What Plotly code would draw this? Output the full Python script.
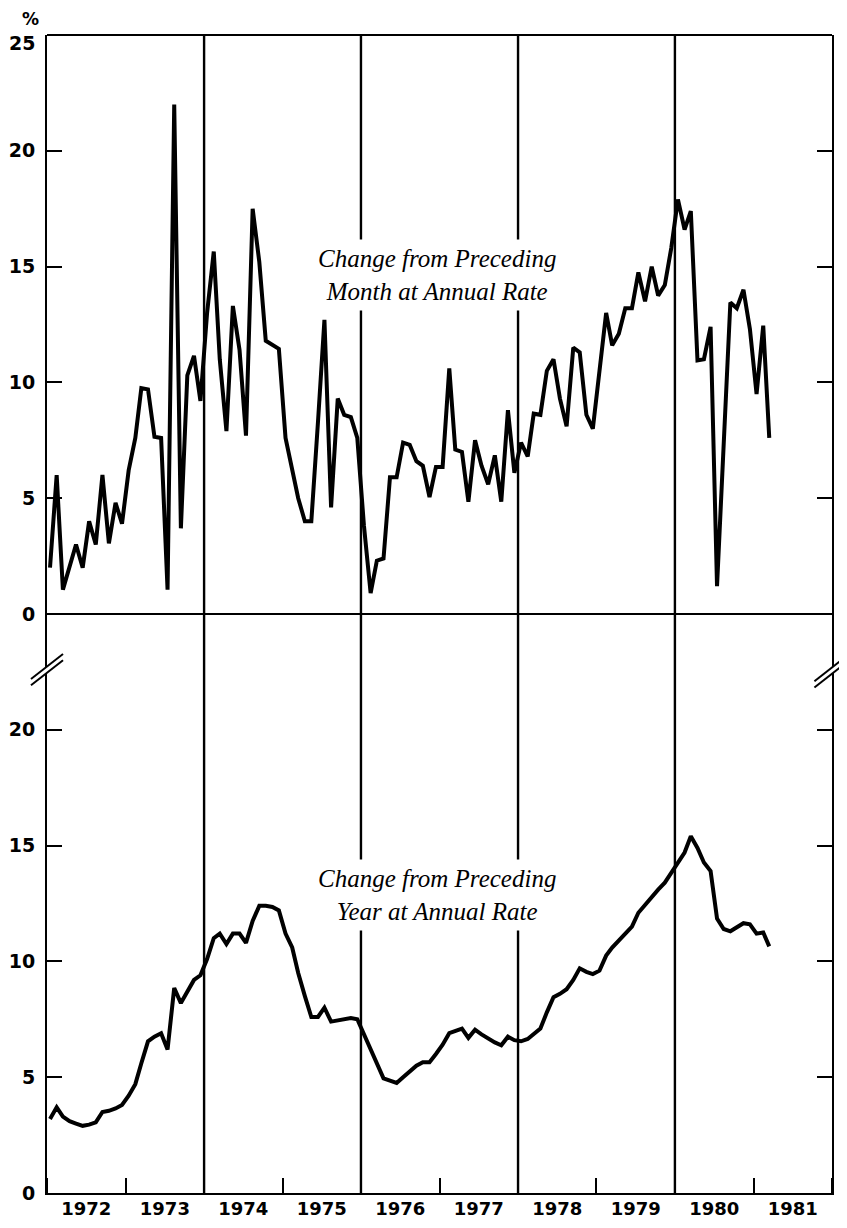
import pandas as pd
import plotly.graph_objects as go

# ---- data ----
monthly_change = [
    2.0, 6.0, 1.05, 2.0, 3.0, 2.0, 4.0, 3.0, 6.0, 3.05, 4.8, 3.9,          # 1972
    6.2, 7.6, 9.75, 9.7, 7.65, 7.6, 1.05, 22.0, 3.7, 10.3, 11.15, 9.2,    # 1973
    13.0, 15.65, 11.0, 7.9, 13.3, 11.4, 7.7, 17.5, 15.2, 11.8, 11.6, 11.45,  # 1974
    7.6, 6.3, 5.0, 4.0, 4.0, 8.3, 12.7, 4.6, 9.3, 8.6, 8.5, 7.6,          # 1975
    3.8, 0.9, 2.3, 2.4, 5.9, 5.9, 7.4, 7.3, 6.6, 6.4, 5.05, 6.35,         # 1976
    6.35, 10.6, 7.1, 7.0, 4.85, 7.5, 6.4, 5.6, 6.85, 4.85, 8.8, 6.1,      # 1977
    7.4, 6.8, 8.65, 8.6, 10.5, 11.0, 9.3, 8.1, 11.5, 11.3, 8.6, 8.0,      # 1978
    10.5, 13.0, 11.6, 12.1, 13.2, 13.2, 14.75, 13.5, 15.0, 13.75, 14.2, 15.8,  # 1979
    17.9, 16.6, 17.4, 10.95, 11.0, 12.4, 1.2, 7.0, 13.45, 13.2, 14.0, 12.3,   # 1980
    9.5, 12.45, 7.6,                                                          # 1981
]

yearly_change = [
    3.2, 3.7, 3.3, 3.1, 3.0, 2.9, 2.95, 3.05, 3.5, 3.55, 3.65, 3.8,       # 1972
    4.2, 4.7, 5.6, 6.55, 6.75, 6.9, 6.2, 8.85, 8.2, 8.7, 9.2, 9.4,        # 1973
    10.1, 11.0, 11.2, 10.75, 11.2, 11.2, 10.8, 11.75, 12.4, 12.4, 12.35, 12.2,  # 1974
    11.2, 10.6, 9.5, 8.5, 7.6, 7.6, 8.0, 7.4, 7.45, 7.5, 7.55, 7.5,       # 1975
    6.85, 6.2, 5.5, 4.95, 4.85, 4.75, 5.0, 5.25, 5.5, 5.65, 5.65, 6.0,    # 1976
    6.4, 6.9, 7.0, 7.1, 6.7, 7.05, 6.85, 6.65, 6.5, 6.38, 6.75, 6.6,      # 1977
    6.55, 6.65, 6.85, 7.1, 7.8, 8.45, 8.6, 8.8, 9.2, 9.7, 9.55, 9.45,     # 1978
    9.6, 10.25, 10.6, 10.9, 11.2, 11.5, 12.1, 12.45, 12.8, 13.1, 13.4, 13.8,  # 1979
    14.25, 14.7, 15.4, 14.9, 14.27, 13.9, 11.85, 11.4, 11.3, 11.45, 11.65, 11.6,  # 1980
    11.2, 11.25, 10.65,                                                    # 1981
]

start_month = "1972-01-01"
x_range = ["1972-01-01", "1982-01-01"]
divider_dates = ["1974-01-01", "1976-01-01", "1978-01-01", "1980-01-01"]
top_ticks = [0, 5, 10, 15, 20, 25]
top_ticktext = ["0", "5", "10", "15", "20", ""]   # "25" is set slightly lower, as in the original
bottom_ticks = [0, 5, 10, 15, 20]
label_top = "<i>Change from Preceding<br>Month at Annual Rate</i>"
label_bottom = "<i>Change from Preceding<br>Year at Annual Rate</i>"

months = pd.date_range(start_month, periods=len(monthly_change), freq="MS") + pd.Timedelta(days=14)

LINE = dict(color="black", width=4)
TICKFONT = dict(family="DejaVu Sans", size=19, color="black", weight="bold")
XTICKFONT = dict(family="DejaVu Sans", size=18, color="black", weight="bold")
PCTFONT = dict(family="DejaVu Sans", size=17, color="black", weight="bold")
TEXTFONT = dict(family="Liberation Serif", size=25, color="black")

fig = go.Figure()
fig.add_trace(go.Scatter(x=months, y=monthly_change, yaxis="y2", mode="lines",
                         line=LINE, showlegend=False, hoverinfo="skip"))
fig.add_trace(go.Scatter(x=months, y=yearly_change, yaxis="y", mode="lines",
                         line=LINE, showlegend=False, hoverinfo="skip"))

yaxis_common = dict(range=[0, 25], ticks="inside", ticklen=15, tickwidth=2,
                    tickcolor="black", showline=True, linewidth=2, linecolor="black",
                    mirror="ticks", showgrid=False, zeroline=False, tickfont=TICKFONT,
                    ticklabelstandoff=6, automargin=False)

shapes = []
for d in divider_dates:
    shapes.append(dict(type="line", xref="x", yref="paper", x0=d, x1=d, y0=0, y1=1,
                       line=dict(color="black", width=2.4), layer="above"))
# top frame and middle (zero of upper panel) line
shapes.append(dict(type="line", xref="paper", yref="paper", x0=0, x1=1, y0=1, y1=1,
                   line=dict(color="black", width=2)))
shapes.append(dict(type="line", xref="paper", yref="paper", x0=0, x1=1, y0=0.5, y1=0.5,
                   line=dict(color="black", width=2)))

# axis-break marks (//)
def break_marks(xc, yc):
    dx, dy, off = 0.0204, 0.0108, 0.0027
    out = [dict(type="path", xref="paper", yref="paper",
                path=f"M {xc-dx},{yc-dy-off} L {xc+dx},{yc+dy-off} L {xc+dx},{yc+dy+off} L {xc-dx},{yc-dy+off} Z",
                fillcolor="white", line=dict(width=0), layer="above")]
    for s in (-off, off):
        out.append(dict(type="line", xref="paper", yref="paper",
                        x0=xc - dx, x1=xc + dx, y0=yc - dy + s, y1=yc + dy + s,
                        line=dict(color="black", width=2), layer="above"))
    return out

shapes += break_marks(0.0, 0.452)
shapes += break_marks(0.998, 0.450)

annotations = [
    dict(text="%", xref="paper", yref="paper", x=-0.0204, y=1.0138, showarrow=False,
         xanchor="center", yanchor="middle", font=PCTFONT),
    dict(text="25", xref="paper", yref="paper", x=-0.0127, y=0.9935, showarrow=False,
         xanchor="right", yanchor="middle", font=TICKFONT),
    dict(text=label_top, xref="paper", yref="paper", x=0.497, y=0.7927, showarrow=False,
         xanchor="center", yanchor="middle", bgcolor="white", borderpad=5, font=TEXTFONT),
    dict(text=label_bottom, xref="paper", yref="paper", x=0.497, y=0.2573, showarrow=False,
         xanchor="center", yanchor="middle", bgcolor="white", borderpad=5, font=TEXTFONT),
]

# the page body adds an 8px margin, so the figure is sized/margined to compensate
fig.update_layout(
    width=831, height=1212,
    margin=dict(l=39, r=7, t=27, b=27, autoexpand=False),
    paper_bgcolor="white", plot_bgcolor="white",
    xaxis=dict(type="date", range=x_range, dtick="M12", tick0=start_month,
               tickformat="%Y", ticklabelmode="period", ticks="inside", ticklen=15,
               tickwidth=2, tickcolor="black", showline=True, linewidth=2,
               linecolor="black", showgrid=False, zeroline=False, anchor="y",
               tickfont=XTICKFONT, ticklabelstandoff=-2, automargin=False),
    yaxis=dict(domain=[0, 0.5], tickvals=bottom_ticks, anchor="x", **yaxis_common),
    yaxis2=dict(domain=[0.5, 1], tickvals=top_ticks, ticktext=top_ticktext, anchor="x",
                **yaxis_common),
    shapes=shapes,
    annotations=annotations,
)

fig.write_html("out.html")
